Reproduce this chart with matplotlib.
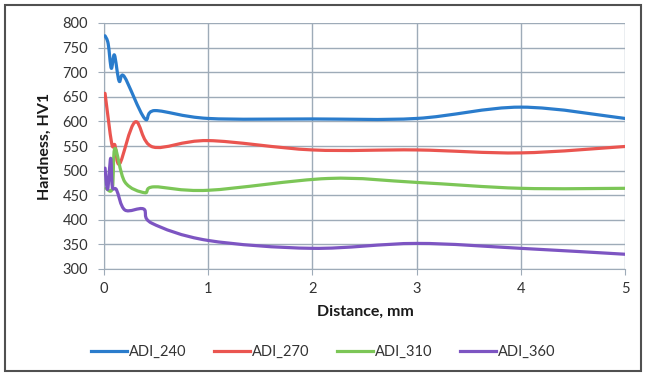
import numpy as np
import matplotlib
matplotlib.use("Agg")
from matplotlib import pyplot as plt
from matplotlib.path import Path
from matplotlib.patches import PathPatch, Rectangle
from matplotlib.lines import Line2D

plt.rcParams['font.family'] = ['Lato', 'DejaVu Sans']

# values (distance in mm, hardness HV1)
x_240 = [0.01, 0.04, 0.07, 0.10, 0.145, 0.195, 0.39, 0.49, 1, 2, 3, 4, 5]
y_240 = [774, 758, 708, 735, 682, 691, 606, 622, 606, 605, 606, 629, 606]

x_270 = [0.01, 0.074, 0.105, 0.15, 0.30, 0.47, 1, 2, 3, 4, 5]
y_270 = [657, 555, 552, 514, 599, 548, 561, 542, 542, 536, 549]

x_310 = [0.02, 0.08, 0.105, 0.20, 0.39, 0.48, 1, 2.15, 3, 4, 5]
y_310 = [464, 464, 545, 477, 455, 467, 460, 484, 476, 464, 464]

x_360 = [0.01, 0.035, 0.064, 0.08, 0.12, 0.20, 0.38, 0.46, 1, 2, 3, 4, 5]
y_360 = [505, 462, 525, 467, 461, 420, 422, 393, 358, 342, 352, 342, 330]

names = ['ADI_240', 'ADI_270', 'ADI_310', 'ADI_360']
colors = ['#2a7ccc', '#ea5550', '#7cc657', '#7d55c2']


def smooth_path(xs, ys):
    # Excel style smoothed line: cubic bezier through every point
    pts = np.column_stack([xs, ys]).astype(float)
    n = len(pts)
    verts = [pts[0]]
    codes = [Path.MOVETO]
    for i in range(n - 1):
        p0 = pts[i - 1] if i > 0 else pts[i]
        p1 = pts[i]
        p2 = pts[i + 1]
        p3 = pts[i + 2] if i + 2 < n else pts[i + 1]
        verts += [p1 + (p2 - p0) / 6, p2 - (p3 - p1) / 6, p2]
        codes += [Path.CURVE4] * 3
    return Path(verts, codes)


fig = plt.figure(figsize=(6.45, 3.76), dpi=100)
ax = fig.add_axes([104 / 645, 1 - 269 / 376, 521 / 645, 246 / 376])

grid_c = '#9eabb8'
for xs, ys, c in zip([x_240, x_270, x_310, x_360], [y_240, y_270, y_310, y_360], colors):
    ax.add_patch(PathPatch(smooth_path(xs, ys), facecolor='none', edgecolor=c,
                           lw=2.3, capstyle='round', joinstyle='round', zorder=3))

ax.set_xlim(0, 5)
ax.set_ylim(300, 800)
ax.set_xticks(range(0, 6))
ax.set_yticks(range(300, 801, 50))
ax.grid(True, color=grid_c, lw=1)
ax.set_axisbelow(True)
for s in ['top', 'right']:
    ax.spines[s].set_visible(False)
for s in ['left', 'bottom']:
    ax.spines[s].set_color(grid_c)
ax.tick_params(axis='both', colors=grid_c, labelcolor='#333333', labelsize=10.5, length=4.5)
ax.tick_params(axis='y', pad=7)
ax.tick_params(axis='x', pad=5)

fig.text(45 / 645, 1 - 146 / 376, 'Hardness, HV1', rotation=90, ha='center', va='center',
         fontsize=11.5, fontweight='bold', color='#1a1a1a')
fig.text(365 / 645, 1 - 312 / 376, 'Distance, mm', ha='center', va='center',
         fontsize=11.5, fontweight='bold', color='#1a1a1a')

handles = [Line2D([], [], color=c, lw=2.3) for c in colors]
fig.legend(handles, names, loc='center', bbox_to_anchor=(323 / 645, 1 - 352 / 376),
           ncol=4, frameon=False, fontsize=10.5, handlelength=2.5, handletextpad=0.1,
           columnspacing=1.9, labelcolor='#333333')

fig.patches.append(Rectangle((5 / 645, 5 / 376), 636 / 645, 366 / 376, transform=fig.transFigure,
                             facecolor='none', edgecolor='#505050', lw=1.5))

fig.savefig('out.png', dpi=100)
